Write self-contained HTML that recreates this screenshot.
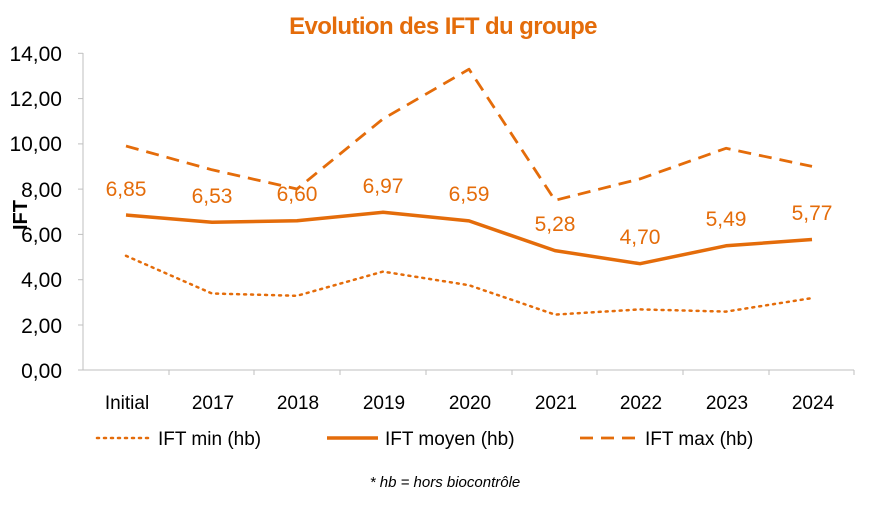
<!DOCTYPE html><html><head><meta charset="utf-8"><style>body{margin:0;background:#fff}svg{display:block;font-family:"Liberation Sans",sans-serif}</style></head><body>
<svg width="870" height="519" viewBox="0 0 870 519">
<text x="443" y="34" text-anchor="middle" font-size="24" font-weight="bold" fill="#E46C0A" letter-spacing="-0.6">Evolution des IFT du groupe</text>
<g stroke="#bfbfbf" stroke-width="1"><line x1="83" y1="53" x2="83" y2="370"/><line x1="78" y1="370" x2="854" y2="370"/></g>
<g stroke="#bfbfbf"><line x1="78" y1="53.3" x2="83" y2="53.3"/><line x1="78" y1="98.6" x2="83" y2="98.6"/><line x1="78" y1="143.9" x2="83" y2="143.9"/><line x1="78" y1="189.1" x2="83" y2="189.1"/><line x1="78" y1="234.4" x2="83" y2="234.4"/><line x1="78" y1="279.7" x2="83" y2="279.7"/><line x1="78" y1="325" x2="83" y2="325"/>
<line x1="169" y1="370" x2="169" y2="375"/><line x1="254" y1="370" x2="254" y2="375"/><line x1="340" y1="370" x2="340" y2="375"/><line x1="426" y1="370" x2="426" y2="375"/><line x1="512" y1="370" x2="512" y2="375"/><line x1="597" y1="370" x2="597" y2="375"/><line x1="683" y1="370" x2="683" y2="375"/><line x1="769" y1="370" x2="769" y2="375"/><line x1="854" y1="370" x2="854" y2="375"/></g>
<g font-size="21" fill="#000" text-anchor="end"><text x="62" y="61">14,00</text><text x="62" y="106">12,00</text><text x="62" y="151">10,00</text><text x="62" y="197">8,00</text><text x="62" y="242">6,00</text><text x="62" y="287">4,00</text><text x="62" y="333">2,00</text><text x="62" y="378">0,00</text></g>
<text transform="translate(27,215) rotate(-90)" text-anchor="middle" font-size="20" font-weight="bold">IFT</text>
<g font-size="19" fill="#000" text-anchor="middle"><text x="127" y="409">Initial</text><text x="213" y="409">2017</text><text x="298" y="409">2018</text><text x="384" y="409">2019</text><text x="470" y="409">2020</text><text x="556" y="409">2021</text><text x="641" y="409">2022</text><text x="727" y="409">2023</text><text x="813" y="409">2024</text></g>
<g fill="none" stroke="#E46C0A" stroke-linejoin="round">
<polyline stroke-width="2.5" stroke-dasharray="2,5" stroke-linecap="round" points="126,255.8 212,293.5 297,295.8 383,271.6 469,285.2 555,314.6 640,309.4 726,311.6 812,298.1"/>
<polyline stroke-width="3.5" points="126,215 212,222.3 297,220.7 383,212.3 469,220.9 555,250.6 640,263.7 726,245.8 812,239.5"/>
<polyline stroke-width="2.8" stroke-dasharray="13,8" points="126,146 212,169.8 297,189 383,118.9 469,69.2 555,200.3 640,178.9 726,148.3 812,166.4"/>
</g>
<g font-size="21" fill="#E46C0A" text-anchor="middle"><text x="126" y="196">6,85</text><text x="212" y="203">6,53</text><text x="297" y="201">6,60</text><text x="383" y="193">6,97</text><text x="469" y="201">6,59</text><text x="555" y="231">5,28</text><text x="640" y="244">4,70</text><text x="726" y="226">5,49</text><text x="812" y="220">5,77</text></g>
<g stroke="#E46C0A" fill="none"><line x1="97" y1="438" x2="150" y2="438" stroke-width="2.5" stroke-dasharray="2,5" stroke-linecap="round"/><line x1="327" y1="438" x2="378" y2="438" stroke-width="3.5"/><line x1="580" y1="438" x2="637" y2="438" stroke-width="2.8" stroke-dasharray="13,8"/></g>
<g font-size="19" fill="#000"><text x="158" y="445">IFT min (hb)</text><text x="385" y="445">IFT moyen (hb)</text><text x="645" y="445">IFT max (hb)</text></g>
<text x="445" y="487" text-anchor="middle" font-size="15" font-style="italic">* hb = hors biocontrôle</text>
</svg></body></html>
